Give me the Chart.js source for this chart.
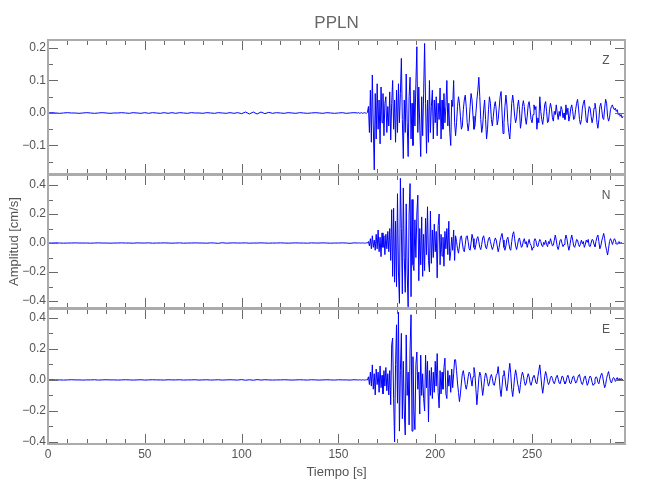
<!DOCTYPE html>
<html>
<head>
<meta charset="utf-8">
<script src="https://cdn.jsdelivr.net/npm/chart.js@4.4.1/dist/chart.umd.min.js"></script>
<style>
  body { margin: 0; background: #fff; }
  #lienzo { position: relative; width: 650px; height: 500px; }
  #lienzo canvas { position: absolute; left: 0; }
</style>
</head>
<body>
<div id="lienzo">
  <canvas id="trazaZ" width="650" height="200" style="top:0px"></canvas>
  <canvas id="trazaN" width="650" height="180" style="top:150px"></canvas>
  <canvas id="trazaE" width="650" height="215" style="top:285px"></canvas>
</div>
<script>
// estacion PPLN, amplitudes en 0.001 cm/s

const pasoPrevio = 2;       // s, tramo 0-158 s
const inicioFuerte = 160;   // s
const pasoFuerte = 0.5;     // s, tramo 160-297 s

const ticksTiempo = [0, 50, 100, 150, 200, 250];
const ticksZ = [-0.1, 0, 0.1, 0.2];
const menoresZ = [-0.15, -0.05, 0.05, 0.15];
const ticksNE = [-0.4, -0.2, 0, 0.2, 0.4];
const menoresNE = [-0.3, -0.1, 0.1, 0.3];

const zPrevio = [
  0,1,0,-1,0,1,0,0,-1,0,
  1,0,-1,0,1,0,-1,0,0,1,
  0,-1,1,0,-1,1,-1,1,0,-1,
  1,-1,1,-1,1,0,-1,1,0,0,
  -1,1,0,-1,1,0,-1,1,-1,1,
  -2,3,-3,3,-3,3,-2,2,-1,1,
  0,-1,1,0,-1,1,0,-1,0,1,
  0,-1,1,0,-1,0,1,-1,0,1
];
const nPrevio = [
  0,0,1,0,-1,0,0,1,0,0,
  0,-1,0,1,0,0,-1,0,0,1,
  0,0,-1,1,0,0,1,-1,0,0,
  1,0,-1,0,1,-1,0,0,1,0,
  0,-1,1,0,-2,2,-1,0,1,0,
  0,1,-1,0,0,1,0,-1,0,0,
  1,0,-1,0,1,0,0,-1,1,0,
  0,1,0,-1,0,0,1,0,-2,1
];
const ePrevio = [
  0,1,0,0,-1,0,1,0,0,-1,
  0,0,1,-1,0,1,0,0,-1,0,
  1,0,-1,0,1,-1,0,1,0,0,
  -1,1,0,0,1,-1,0,0,1,-1,
  0,1,-1,0,1,-1,0,1,0,-1,
  2,-2,1,-2,2,-1,1,0,-1,0,
  0,1,0,-1,0,1,0,-1,1,0,
  -1,0,1,0,-1,1,0,0,-1,1
];

// 160.0 - 165.0 s, luego filas de 5 s (165.5 ... 295), ultima fila 295.5 - 297
const zFuerte = [
  0,1,-1,0,1,-1,0,1,0,-1,2,
  20,-60,70,-90,117,-40,-175,60,-80,90,
  -50,40,-95,80,-30,60,-70,30,50,-60,
  20,-40,65,-83,30,100,-50,40,-90,70,
  -60,90,-30,60,168,-20,-140,40,-60,120,
  -30,-134,50,110,-80,30,-100,70,-40,90,
  204,-60,80,-40,-134,50,-70,60,214,30,
  -124,40,-90,100,-60,20,70,-80,40,-30,
  50,-70,30,-20,77,-80,40,-50,60,-30,
  20,100,-40,30,-60,-100,40,20,100,-30,
  -70,-30,20,50,30,-10,-50,-40,10,40,
  55,20,-30,-55,-30,20,60,40,-10,-50,
  -40,0,40,70,110,50,-20,-60,-40,10,
  40,-20,-80,-50,10,50,30,-20,-40,-10,
  20,35,10,-37,-20,15,50,66,0,-63,
  -30,20,55,25,-30,-60,-80,-30,30,55,
  30,-10,-30,-15,20,40,10,-47,-25,20,
  38,20,-15,-35,-10,25,35,10,-20,-30,
  -5,25,10,20,-50,-15,-30,50,5,-20,
  -35,-10,25,35,5,-30,-25,10,30,15,
  -15,-25,5,-5,25,0,-20,5,-10,20,
  10,-15,0,-20,25,-5,15,-25,-10,15,
  25,5,-20,-15,10,30,42,15,-20,-35,
  -20,15,30,40,10,-25,-30,0,20,15,
  -10,-30,-15,15,30,10,-30,-47,-20,20,
  30,10,-15,-20,15,42,30,-10,-25,-15,
  10,20,25,15,10,15,5,10,-5,0,
  -10,-5,-15,-10
];
const nFuerte = [
  0,1,0,-1,0,1,0,-1,0,1,0,
  10,-20,30,-40,50,-30,20,-50,60,-40,
  90,-60,40,-94,70,-30,50,-80,60,-40,
  80,-60,100,-120,230,-230,240,-270,150,-300,
  340,-200,-416,446,100,-350,380,-100,-340,270,
  -200,-440,200,410,-370,300,-150,-190,160,-100,
  200,330,-260,100,-150,180,-230,60,-190,170,
  -80,250,-120,-200,220,-140,90,-100,130,-60,
  80,-240,120,200,-150,60,-90,40,-160,80,
  -40,100,-80,150,-120,-60,40,-50,90,-120,
  50,10,-40,-70,-20,40,50,0,-45,-60,
  -10,45,50,10,-40,-50,0,60,30,-30,
  -45,-10,30,44,10,-30,-45,-10,35,50,
  15,-30,-40,-5,30,40,10,-20,-45,-25,
  10,35,20,-20,-60,-30,15,45,66,20,
  -30,-50,-20,25,40,0,-40,-50,10,60,
  78,30,-20,-45,-15,25,35,0,-30,-20,
  15,30,-5,10,-30,0,25,-5,-15,-50,
  -30,10,30,15,-20,-25,5,25,10,-15,
  -25,5,-10,20,-10,-25,10,-5,30,5,
  -20,-15,20,55,20,-25,-45,-15,20,25,
  -5,-25,-10,20,55,30,-15,-50,-20,25,
  55,20,-20,-30,-5,25,20,-10,-25,-5,
  20,-5,10,-30,-10,20,5,25,-20,-25,
  0,25,20,-10,-25,10,40,55,10,-40,
  -20,15,40,66,30,-20,-50,-83,-40,10,
  30,15,-10,10,30,20,-5,-10,5,10,
  -5,5,-5,0
];
const eFuerte = [
  0,-1,1,0,-1,1,0,-1,0,1,0,
  20,-30,50,-40,97,-60,40,-97,70,-30,
  50,-80,90,-50,30,-90,60,-40,80,-70,
  40,-97,60,-160,226,270,-120,-400,100,355,
  -150,437,-330,60,300,-250,120,-200,-355,290,
  -100,50,-290,200,420,-330,150,-200,-320,100,
  180,-60,50,-220,160,-100,40,-120,-200,160,
  -50,120,-270,60,-100,80,-120,50,-80,120,
  -40,170,-80,-180,60,-90,50,-60,80,140,
  -90,-120,60,-40,30,-80,70,-50,40,130,
  130,60,-20,-80,-140,-90,-20,40,60,20,
  -30,-60,-30,20,50,40,0,-40,20,80,
  40,-60,-160,-80,10,50,30,-40,-100,-50,
  10,45,30,-10,-40,-20,20,35,10,-30,
  -35,-5,30,40,86,20,-60,-107,-40,30,
  60,20,-40,-70,-20,50,107,40,-60,-107,
  -50,20,65,30,-20,-50,-86,-30,20,50,
  30,-10,-35,-20,15,40,20,-20,-35,-10,
  20,30,10,-20,-25,20,60,97,30,-40,
  -86,-40,20,54,30,-10,-30,-15,15,25,
  10,-15,-25,-5,20,30,5,-20,-25,0,
  25,20,-10,-25,-15,15,30,10,-20,-25,
  -5,20,25,0,-20,-15,10,30,35,5,
  -20,-30,-10,20,25,-5,-35,-20,10,25,
  15,-15,-35,-25,5,20,15,-15,-25,5,
  30,43,20,-20,-50,-30,10,35,54,20,
  -10,-20,0,15,10,-10,5,15,-5,10,
  -5,10,0,5
];

const familia = "'Liberation Sans', Arial, sans-serif";
const grisTexto = '#555555';

function serie(previo, fuerte) {
  const puntos = previo.map((v, i) => ({ x: i * pasoPrevio, y: v / 1000 }));
  fuerte.forEach((v, i) => puntos.push({ x: inicioFuerte + i * pasoFuerte, y: v / 1000 }));
  return puntos;
}

function etiquetaY(v) {
  if (Math.abs(v) < 1e-9) return '0.0';
  return (v < 0 ? '\u2212' : '') + Math.abs(v).toFixed(1);
}

// marco con marcas hacia dentro en los cuatro lados, letra de la componente
const marco = {
  id: 'marco',
  afterDatasetsDraw(chart, args, opts) {
    const { ctx, chartArea: a, scales } = chart;
    const sx = scales.x, sy = scales.y;
    ctx.save();
    ctx.strokeStyle = '#6a6a6a';
    ctx.lineWidth = 1;
    ctx.beginPath();
    const marcaX = (t, largo) => {
      const px = Math.round(sx.getPixelForValue(t)) + 0.5;
      ctx.moveTo(px, a.top); ctx.lineTo(px, a.top + largo);
      ctx.moveTo(px, a.bottom); ctx.lineTo(px, a.bottom - largo);
    };
    const marcaY = (v, largo) => {
      const py = Math.round(sy.getPixelForValue(v)) + 0.5;
      ctx.moveTo(a.left, py); ctx.lineTo(a.left + largo, py);
      ctx.moveTo(a.right, py); ctx.lineTo(a.right - largo, py);
    };
    for (let t = 10; t < sx.max; t += 10) marcaX(t, t % 50 === 0 ? 10 : 5);
    opts.mayores.forEach(v => marcaY(v, 10));
    opts.menores.forEach(v => marcaY(v, 5));
    ctx.stroke();

    ctx.strokeStyle = '#ababab';
    ctx.lineWidth = 2;
    ctx.strokeRect(a.left, a.top, a.right - a.left, a.bottom - a.top);

    ctx.fillStyle = grisTexto;
    ctx.textAlign = 'center';
    ctx.textBaseline = 'middle';
    ctx.font = '12px ' + familia;
    ctx.fillText(opts.letra, a.right - 19, a.top + 21);
    if (opts.titulo) {
      ctx.fillStyle = '#666666';
      ctx.font = '17px ' + familia;
      ctx.fillText(opts.titulo, (a.left + a.right) / 2, 23);
    }
    ctx.restore();
  }
};

function crearPanel(id, datos, yMin, yMax, mayores, menores, letra, extra) {
  const conEjeX = !!extra.ejeX;
  const ejeY = {
    type: 'linear',
    min: yMin,
    max: yMax,
    afterBuildTicks: s => { s.ticks = mayores.map(v => ({ value: v })); },
    afterFit: s => { s.width = 48; },
    grid: { display: false, drawTicks: false },
    border: { display: false },
    ticks: {
      color: grisTexto,
      padding: 2,
      font: { family: familia, size: 12 },
      callback: v => etiquetaY(v)
    },
    title: extra.tituloY ? {
      display: true,
      text: extra.tituloY,
      color: grisTexto,
      font: { family: familia, size: 13 },
      padding: { top: 7, bottom: 0 }
    } : { display: false }
  };
  const ejeX = {
    type: 'linear',
    min: 0,
    max: 298,
    display: conEjeX,
    afterBuildTicks: s => { s.ticks = ticksTiempo.map(v => ({ value: v })); },
    afterFit: s => { if (conEjeX) s.height = 36; },
    grid: { display: false, drawTicks: false },
    border: { display: false },
    ticks: {
      color: grisTexto,
      padding: 3,
      maxRotation: 0,
      autoSkip: false,
      font: { family: familia, size: 12 }
    },
    title: {
      display: conEjeX,
      text: 'Tiempo [s]',
      color: grisTexto,
      font: { family: familia, size: 13 },
      padding: { top: 2, bottom: 0 }
    }
  };
  return new Chart(document.getElementById(id).getContext('2d'), {
    type: 'line',
    data: {
      datasets: [{
        data: datos,
        borderColor: '#0000ff',
        borderWidth: 1,
        pointRadius: 0,
        tension: 0,
        fill: false
      }]
    },
    options: {
      responsive: false,
      animation: false,
      events: [],
      layout: { padding: extra.padding },
      scales: { x: ejeX, y: ejeY },
      plugins: {
        legend: { display: false },
        tooltip: { enabled: false },
        marco: { letra: letra, mayores: mayores, menores: menores, titulo: extra.titulo }
      }
    },
    plugins: [marco]
  });
}

crearPanel('trazaZ', serie(zPrevio, zFuerte), -0.1877, 0.2246, ticksZ, menoresZ, 'Z', {
  titulo: 'PPLN',
  padding: { left: 0, right: 25, top: 40, bottom: 26 }
});
crearPanel('trazaN', serie(nPrevio, nFuerte), -0.448, 0.469, ticksNE, menoresNE, 'N', {
  tituloY: 'Amplitud [cm/s]',
  padding: { left: 0, right: 25, top: 25, bottom: 22 }
});
crearPanel('trazaE', serie(ePrevio, eFuerte), -0.413, 0.457, ticksNE, menoresNE, 'E', {
  ejeX: true,
  padding: { left: 0, right: 25, top: 24, bottom: 20 }
});
</script>
</body>
</html>
